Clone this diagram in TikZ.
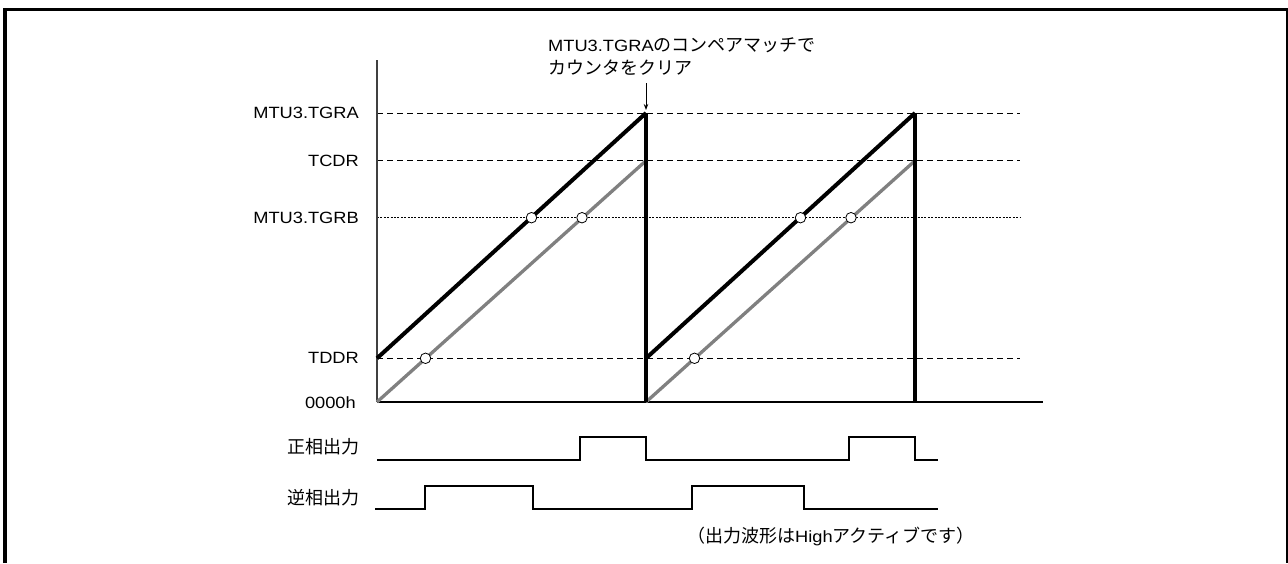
\documentclass[tikz,border=0pt]{standalone}
\usepackage{fontspec}
\setmainfont{Liberation Sans}[FakeStretch=1.12]
\newfontfamily\jp{Noto Sans CJK JP}
\usetikzlibrary{arrows.meta}
\begin{document}
\begin{tikzpicture}[x=1pt,y=-1pt,
  lbl/.style={anchor=east, inner sep=0pt, font=\fontsize{16.3}{20}\selectfont},
  jlbl/.style={anchor=east, inner sep=0pt, font=\fontsize{18}{22}\selectfont\jp},
  refline/.style={line width=0.9pt, dash pattern=on 6pt off 4pt},
  refdot/.style={line width=0.9pt, dash pattern=on 2pt off 1.4pt},
  saw/.style={line width=4pt},
  sawgray/.style={line width=3.3pt, color=black!50},
  pulse/.style={line width=2pt},
  hit/.style={circle, draw, fill=white, inner sep=0pt, minimum size=10.5pt, line width=0.8pt},
  axis/.style={line width=1.1pt}
]
\useasboundingbox (0,0) rectangle (1288,563);
% frame
\draw[line width=3.5pt] (5,563) -- (5,9.7) -- (1288,9.7);
\draw[line width=2pt] (1286.5,9.7) -- (1286.5,563);

% coordinates
\coordinate (ytop) at (377,60);
\coordinate (o) at (377,402);
\coordinate (xend) at (1043,402);
\coordinate (aS) at (377,113);   \coordinate (aE) at (1020,113);
\coordinate (cS) at (377,160.7); \coordinate (cE) at (1020,160.7);
\coordinate (bS) at (377,217.7); \coordinate (bE) at (1020,217.7);
\coordinate (dS) at (377,358.3); \coordinate (dE) at (1020,358.3);
\coordinate (k1top) at (646,113); \coordinate (k1bot) at (646,402); \coordinate (k1d) at (646,358.3);
\coordinate (k2top) at (915,113); \coordinate (k2bot) at (915,402);
\coordinate (g1top) at (646,160.7); \coordinate (g2top) at (915,160.7);

% reference lines
\draw[refline] (aS) -- (aE);
\draw[refline] (cS) -- (cE);
\draw[refdot] (bS) -- (bE);
\draw[refline] (dS) -- (dE);

% axes
\draw[axis, black!75] (ytop) -- (o);
\draw[axis] (o) -- (xend);

% gray ramps
\draw[sawgray] (o) -- (g1top);
\draw[sawgray] (k1bot) -- (g2top);
% black ramps
\draw[saw] (dS) -- (k1top);
\draw[saw] (k1d) -- (k2top);
\draw[line width=4.5pt] (k1top) -- (k1bot);
\draw[line width=4.5pt] (k2top) -- (k2bot);

% compare match points
\node[hit] (h1) at (531.5,217.7) {};
\node[hit] (h2) at (582,217.7) {};
\node[hit] (h3) at (425.5,358.3) {};
\node[hit] (h4) at (800.5,217.7) {};
\node[hit] (h5) at (851,217.7) {};
\node[hit] (h6) at (694.5,358.3) {};

% labels
\node[lbl] (lA) at (359,113) {MTU3.TGRA};
\node[lbl] (lC) at (359,160.7) {TCDR};
\node[lbl] (lB) at (359,217.7) {MTU3.TGRB};
\node[lbl] (lD) at (359,358.3) {TDDR};
\node[lbl] (lZ) at (356,403) {0000h};
\node[jlbl] (lP) at (360,446.7) {正相出力};
\node[jlbl] (lN) at (360,498) {逆相出力};

% annotation
\node[anchor=west, inner sep=0pt, align=left, font=\fontsize{16.3}{23}\selectfont] (note) at (548,56.5)
  {MTU3.TGRA{\jp\fontsize{18}{23}\selectfont のコンペアマッチで}\\
   {\jp\fontsize{18}{23}\selectfont カウンタをクリア}};
\coordinate (arrS) at (646,83);
\coordinate (arrE) at (646,110);
\draw[line width=0.9pt, -{Stealth[length=6pt,width=4.5pt]}] (arrS) -- (arrE);

% pulses
\draw[pulse] (377,460) -- (580,460) -- (580,437) -- (646,437) -- (646,460)
  -- (849,460) -- (849,437) -- (915,437) -- (915,460) -- (938,460);
\draw[pulse] (375,509) -- (425,509) -- (425,486) -- (533,486) -- (533,509)
  -- (692,509) -- (692,486) -- (804,486) -- (804,509) -- (938,509);

% footnote
\node[anchor=west, inner sep=0pt] (foot) at (687,536)
  {\jp\fontsize{18}{22}\selectfont （出力波形は{\rmfamily\fontsize{16.3}{22}\selectfont High}アクティブです）};
\end{tikzpicture}
\end{document}
